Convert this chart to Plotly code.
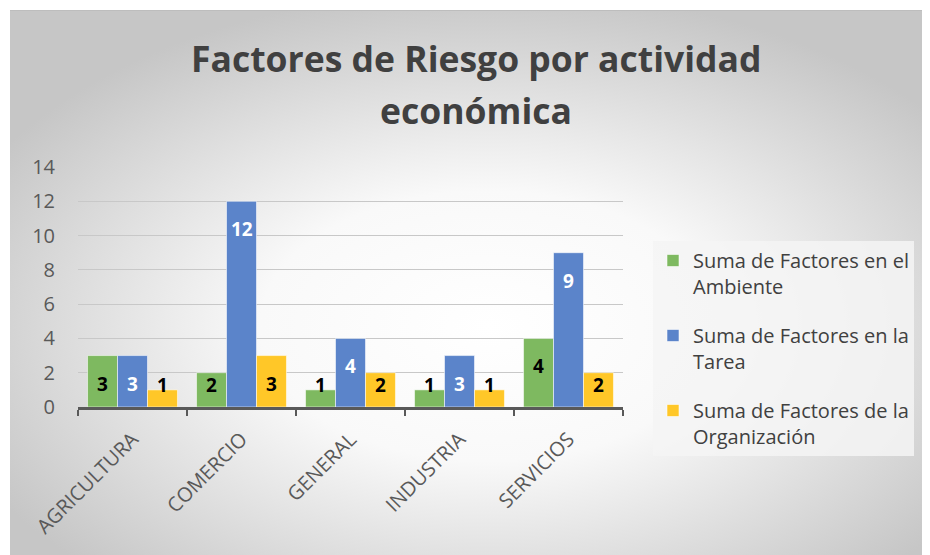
import base64
import plotly.graph_objects as go

categories = ["AGRICULTURA", "COMERCIO", "GENERAL", "INDUSTRIA", "SERVICIOS"]
series_names = [
    "Suma de Factores en el<br>Ambiente",
    "Suma de Factores en la<br>Tarea",
    "Suma de Factores de la<br>Organización",
]
ambiente = [3, 2, 1, 1, 4]
tarea = [3, 12, 4, 3, 9]
organizacion = [1, 3, 2, 1, 2]
y_ticks = [0, 2, 4, 6, 8, 10, 12, 14]
title_line1 = "Factores de Riesgo por actividad"
title_line2 = "económica"

series_values = [ambiente, tarea, organizacion]
colors = ["#7EB960", "#5B84CA", "#FFC728"]
label_colors = ["#000000", "#FFFFFF", "#000000"]

OFF = 8  # page body margin
W, H = 930 - OFF, 555 - OFF
ML = 78 - OFF
MT = 167 - OFF
PW = 623 - 78
PH = 407 - 167
MR = W - ML - PW
MB = H - MT - PH
FONT = "'Open Sans', 'Noto Sans', sans-serif"
BARGAP = 0.175


def px_x(xr):
    return (xr - OFF - ML) / PW


def px_y(yr):
    return (MT + PH - (yr - OFF)) / PH


fig = go.Figure()
for name, vals, col in zip(series_names, series_values, colors):
    fig.add_trace(go.Bar(
        x=categories, y=vals, name=name,
        marker=dict(color=col, line=dict(color="rgba(255,255,255,0.55)", width=1)),
        legendgroup=name,
    ))

ymax = 14.0
px_per_unit = PH / ymax
bar_w = (PW / len(categories)) * (1 - BARGAP) / 3
annotations = []
for i, (vals, lc) in enumerate(zip(series_values, label_colors)):
    for c, v in zip(categories, vals):
        yl = max(v - 28 / px_per_unit, 22 / px_per_unit)
        annotations.append(dict(
            x=c, y=yl, xref="x", yref="y", text=f"<b>{v}</b>",
            showarrow=False, xshift=(i - 1) * bar_w, yanchor="middle",
            font=dict(family=FONT, size=19, color=lc),
        ))

for txt, yr in ((title_line1, 58), (title_line2, 110)):
    annotations.append(dict(
        x=px_x(476), y=px_y(yr), xref="paper", yref="paper",
        text=f"<b>{txt}</b>", showarrow=False, yanchor="middle", xanchor="center",
        font=dict(family=FONT, size=35.5, color="#404040"),
    ))

svg = (
    '<svg xmlns="http://www.w3.org/2000/svg" width="920" height="545">'
    '<defs><radialGradient id="g" cx="52%" cy="58%" r="62%">'
    '<stop offset="0%" stop-color="#ffffff"/>'
    '<stop offset="40%" stop-color="#f9f9f9"/>'
    '<stop offset="100%" stop-color="#c6c6c6"/>'
    '</radialGradient></defs>'
    '<rect width="920" height="545" fill="url(#g)"/>'
    '<line x1="0" y1="0.5" x2="920" y2="0.5" stroke="#bdbdbd" stroke-width="1"/>'
    '</svg>'
)
src = "data:image/svg+xml;base64," + base64.b64encode(svg.encode()).decode()
fig.add_layout_image(dict(
    source=src, xref="paper", yref="paper",
    x=px_x(10), y=px_y(10),
    sizex=(930 - 10) / PW, sizey=(555 - 10) / PH,
    xanchor="left", yanchor="top", sizing="stretch", layer="below",
))

fig.update_layout(
    width=W, height=H,
    margin=dict(l=ML, r=MR, t=MT, b=MB, pad=0),
    paper_bgcolor="#ffffff", plot_bgcolor="rgba(0,0,0,0)",
    barmode="group", bargap=BARGAP, bargroupgap=0,
    font=dict(family=FONT, size=20, color="#595959"),
    annotations=annotations,
    showlegend=True,
    legend=dict(
        x=px_x(653), y=px_y(241), xanchor="left", yanchor="top",
        bgcolor="rgba(245,245,245,0.85)", borderwidth=0,
        font=dict(family=FONT, size=20, color="#404040"),
        tracegroupgap=20, traceorder="grouped", valign="top",
    ),
    xaxis=dict(
        type="category", tickangle=-45, tickson="boundaries",
        ticks="outside", ticklen=6, tickwidth=2, tickcolor="#595959",
        showline=True, linecolor="#595959", linewidth=2.5,
        showgrid=False, tickfont=dict(size=20, color="#595959"),
        ticklabelstandoff=10,
    ),
    yaxis=dict(
        range=[0, ymax], tickvals=y_ticks, showgrid=True,
        gridcolor="#c8c8c8", gridwidth=1.3, zeroline=False, showline=False,
        tickfont=dict(size=20, color="#595959"), ticklabelstandoff=22,
    ),
)

fig.write_html("out.html")
